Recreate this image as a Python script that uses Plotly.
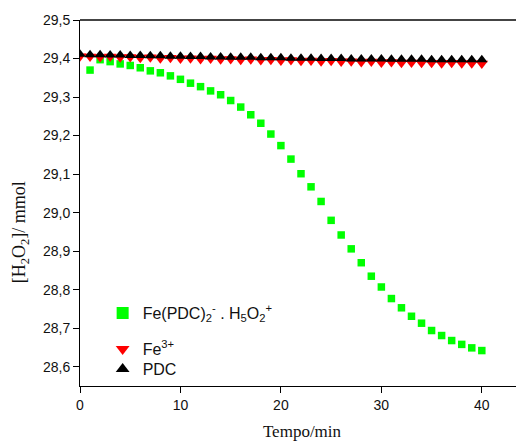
import plotly.graph_objects as go

# ---- data ----
t_green = list(range(1, 41))
h2o2_complex = [29.370, 29.397, 29.392, 29.386, 29.382, 29.376, 29.368, 29.363, 29.355, 29.346,
                29.336, 29.327, 29.316, 29.306, 29.291, 29.274, 29.254, 29.232, 29.204, 29.174,
                29.139, 29.101, 29.067, 29.029, 28.980, 28.942, 28.906, 28.870, 28.835, 28.807,
                28.777, 28.753, 28.731, 28.713, 28.694, 28.681, 28.668, 28.658, 28.649, 28.642]

t_tri = list(range(0, 41))
h2o2_fe3 = [29.406, 29.405, 29.404, 29.405, 29.403, 29.404, 29.402, 29.403, 29.401, 29.402,
            29.400, 29.401, 29.399, 29.400, 29.398, 29.399, 29.397, 29.398, 29.396, 29.397,
            29.395, 29.396, 29.394, 29.395, 29.393, 29.394, 29.392, 29.393, 29.391, 29.392,
            29.390, 29.391, 29.389, 29.390, 29.389, 29.389, 29.388, 29.389, 29.388, 29.388, 29.387]
h2o2_pdc = [29.411, 29.410, 29.410, 29.409, 29.409, 29.408, 29.408, 29.407, 29.407, 29.406,
            29.406, 29.405, 29.405, 29.404, 29.404, 29.403, 29.403, 29.403, 29.402, 29.402,
            29.402, 29.401, 29.401, 29.401, 29.400, 29.400, 29.400, 29.399, 29.399, 29.399,
            29.399, 29.398, 29.398, 29.398, 29.398, 29.397, 29.397, 29.397, 29.397, 29.397, 29.397]

names = ["Fe(PDC)<sub>2</sub><sup>-</sup> . H<sub>5</sub>O<sub>2</sub><sup>+</sup>",
         "Fe<sup>3+</sup>", "PDC"]
x_ticks = [0, 10, 20, 30, 40]
y_title = "[H<sub>2</sub>O<sub>2</sub>]/ mmol"
x_title = "Tempo/min"

fig = go.Figure()
fig.add_trace(go.Scatter(x=t_green, y=h2o2_complex, mode="markers", name=names[0], legend="legend",
                         marker=dict(symbol="square", size=7.5, color="#00FF00", line=dict(width=0))))
fig.add_trace(go.Scatter(x=t_tri, y=h2o2_fe3, mode="markers", name=names[1], legend="legend2",
                         marker=dict(symbol="triangle-down", size=11, color="#FF0000", line=dict(width=0))))
fig.add_trace(go.Scatter(x=t_tri, y=h2o2_pdc, mode="markers", name=names[2], legend="legend3",
                         marker=dict(symbol="triangle-up", size=10, color="#000000", line=dict(width=0))))

legend_common = dict(xanchor="left", yanchor="middle", bgcolor="rgba(0,0,0,0)",
                     font=dict(size=16, family="Liberation Sans, Arial", color="#111"),
                     tracegroupgap=0, itemsizing="constant")

fig.update_layout(
    width=524, height=443,
    margin=dict(l=72, r=8, t=12, b=65),
    plot_bgcolor="white", paper_bgcolor="white",
    separators=",.",
    font=dict(family="Liberation Sans, Arial", size=14, color="#111"),
    showlegend=True,
    legend=dict(x=0.051, y=0.1995, **legend_common),
    legend2=dict(x=0.051, y=0.101, **legend_common),
    legend3=dict(x=0.051, y=0.046, **legend_common),
    xaxis=dict(range=[0, 44.2], tickvals=x_ticks, ticks="outside", ticklen=6, tickcolor="black",
               showline=True, linecolor="black", linewidth=1, showgrid=False, zeroline=False,
               automargin=False,
               title=dict(text=x_title, font=dict(family="Liberation Serif, Times New Roman", size=17), standoff=13)),
    yaxis=dict(range=[28.55, 29.5], tick0=28.6, dtick=0.1, tickformat=".1f", ticks="outside", ticklen=6,
               tickcolor="black", showline=True, linecolor="black", linewidth=1, showgrid=False, zeroline=False,
               automargin=False),
)
fig.add_annotation(text=y_title, xref="paper", yref="paper", x=-0.135, y=0.42,
                   xanchor="center", yanchor="middle", textangle=-90, showarrow=False,
                   font=dict(family="Liberation Serif, Times New Roman", size=18, color="#111"))
fig.add_shape(type="line", xref="paper", yref="paper", x0=0, x1=1, y0=1, y1=1,
              line=dict(color="#444", width=2))
fig.write_html("out.html")
